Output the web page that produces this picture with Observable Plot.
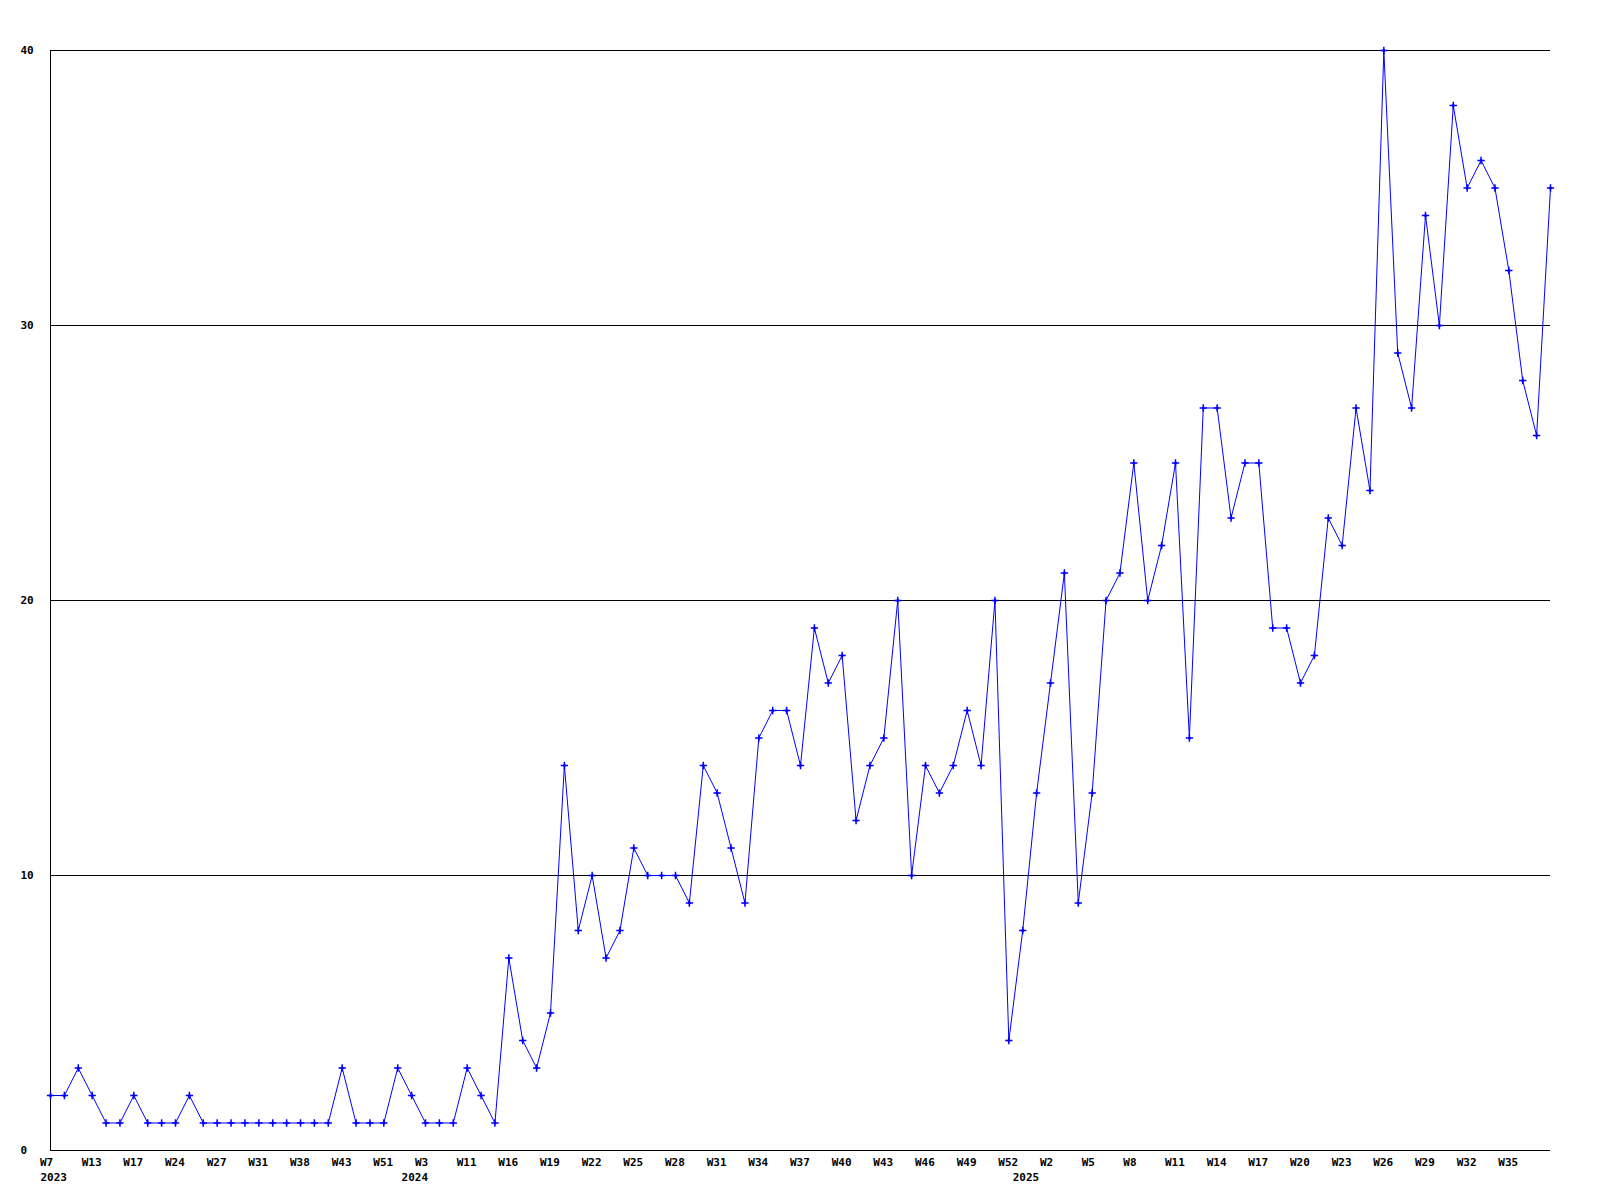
<!DOCTYPE html>
<html><head><meta charset="utf-8">
<script src="https://cdn.jsdelivr.net/npm/d3@7"></script>
<script src="https://cdn.jsdelivr.net/npm/@observablehq/plot@0.6"></script>
<style>body{margin:0;background:#fff}</style>
</head><body><div id="chart"></div>
<script>
const values = [
  2,2,3,2,1,1,2,1,1,1,
  2,1,1,1,1,1,1,1,1,1,
  1,3,1,1,1,3,2,1,1,1,
  3,2,1,7,4,3,5,14,8,10,
  7,8,11,10,10,10,9,14,13,11,
  9,15,16,16,14,19,17,18,12,14,
  15,20,10,14,13,14,16,14,20,4,
  8,13,17,21,9,13,20,21,25,20,
  22,25,15,27,27,23,25,25,19,19,
  17,18,23,22,27,24,40,29,27,34,
  30,38,35,36,35,32,28,26,35
];
const tickWeeks = ["W7","W13","W17","W24","W27","W31","W38","W43","W51","W3","W11","W16",
  "W19","W22","W25","W28","W31","W34","W37","W40","W43","W46","W49","W52",
  "W2","W5","W8","W11","W14","W17","W20","W23","W26","W29","W32","W35"];
const tickEvery = 3;
const yearLabels = ["2023","2024","2025"];
const yearTickIndex = [0,26,70];
const yTicks = [0,10,20,30,40];

const data = values.map((v,i)=>({i, v}));
const tickIdx = tickWeeks.map((_,k)=>k*tickEvery);
const weekAt = new Map(tickIdx.map((t,k)=>[t,tickWeeks[k]]));
const yearAt = new Map(yearTickIndex.map((t,k)=>[t,yearLabels[k]]));

const chart = Plot.plot({
  width:1600, height:1200,
  marginLeft:50, marginRight:50, marginTop:50, marginBottom:50,
  x:{domain:[0, values.length-1]},
  y:{domain:[0,40]},
  style:{fontFamily:"DejaVu Sans Mono", fontWeight:"bold", fontSize:"11px", color:"#000", background:"#fff"},
  marks:[
    Plot.ruleY(yTicks,{stroke:"#000", strokeWidth:1}),
    Plot.ruleX([0],{stroke:"#000", strokeWidth:1}),
    Plot.axisY({ticks:yTicks, tickSize:0, tickPadding:30, textAnchor:"start", label:null, dy:0}),
    Plot.axisX({ticks:tickIdx, tickSize:0, tickPadding:8, textAnchor:"start", dx:-10.5, tickFormat:d=>weekAt.get(d), label:null}),
    Plot.axisX({ticks:yearTickIndex, tickSize:0, tickPadding:23, textAnchor:"start", dx:-10, tickFormat:d=>yearAt.get(d), label:null}),
    Plot.line(data,{x:"i", y:"v", stroke:"#0000ff", strokeWidth:1}),
    Plot.dot(data,{x:"i", y:"v", r:1.5, fill:"#0000ff"}),
    Plot.dot(data,{x:"i", y:"v", symbol:"plus", r:2.5, stroke:"#0000ff", strokeWidth:1.5})
  ]
});
document.getElementById("chart").appendChild(chart);
</script>
</body></html>
